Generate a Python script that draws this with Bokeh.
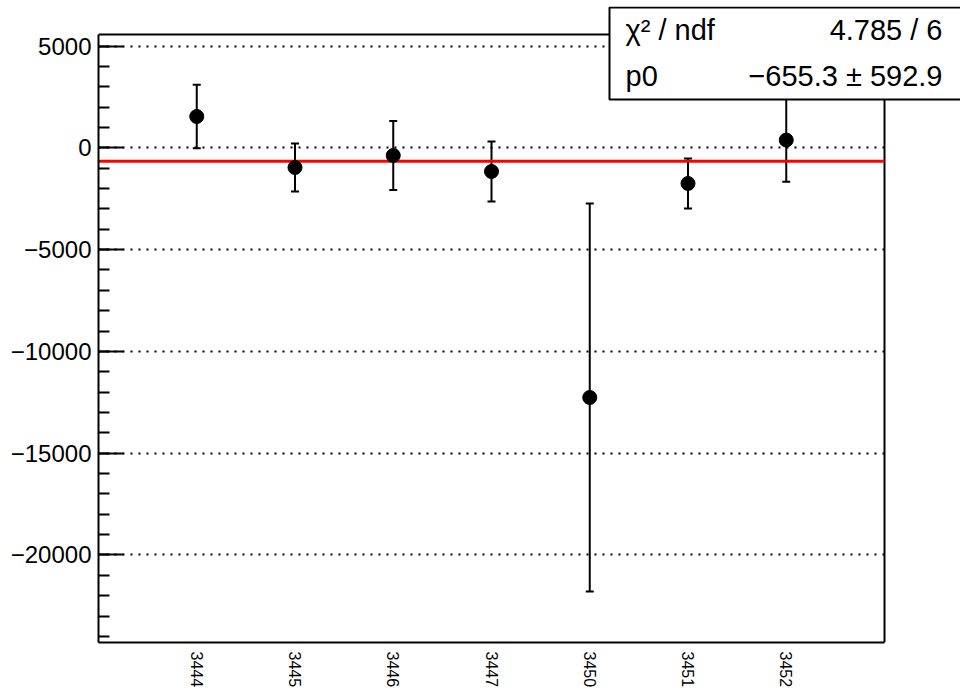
from bokeh.plotting import figure
from bokeh.models import (ColumnDataSource, FixedTicker, Whisker, TeeHead, BoxAnnotation,
                          Label, Range1d, Grid)
from bokeh.embed import file_html
from bokeh.resources import INLINE

# ---- data ----
runs = ["3444", "3445", "3446", "3447", "3450", "3451", "3452"]
values = [1537, -968, -378, -1164, -12264, -1753, 380]
errors = [1555, 1179, 1695, 1473, 9530, 1228, 2050]
fit_p0 = -655.3
stat_names = ["χ² / ndf", "p0"]
stat_values = ["4.785 / 6", "−655.3 ± 592.9"]
y_ticks = [5000, 0, -5000, -10000, -15000, -20000]
y_tick_labels = ["5000", "0", "−5000", "−10000", "−15000", "−20000"]
y_minor_step = 1000
y_limits = (-24300, 5565)          # ROOT frame limits

FONT = "Liberation Sans"

# ---- geometry (pixels) ----
W, H = 960, 692
F_LEFT, F_RIGHT, F_TOP, F_BOTTOM = 98, 884, 34, 642     # ROOT frame box
C_TOP = 6                                              # bokeh frame top (room for stats box)

xs = list(range(1, len(runs) + 1))
x_limits = (0, len(runs) + 1)
x_per_px = (x_limits[1] - x_limits[0]) / (F_RIGHT - F_LEFT)
y_per_px = (y_limits[1] - y_limits[0]) / (F_BOTTOM - F_TOP)
x_end = x_limits[1] + (W - F_RIGHT) * x_per_px
y_end = y_limits[1] + (F_TOP - C_TOP) * y_per_px

src = ColumnDataSource(dict(
    x=xs, y=values,
    upper=[v + e for v, e in zip(values, errors)],
    lower=[v - e for v, e in zip(values, errors)],
))

p = figure(width=W, height=H, output_backend="svg", toolbar_location=None,
           x_range=Range1d(x_limits[0], x_end), y_range=Range1d(y_limits[0], y_end),
           min_border_left=F_LEFT, min_border_right=0, min_border_top=C_TOP,
           min_border_bottom=H - F_BOTTOM)
p.background_fill_color = "white"
p.border_fill_color = "white"
p.outline_line_color = None

# grids
p.xgrid.grid_line_color = None
grid_has_cross = "cross_bounds" in Grid.properties()
if grid_has_cross:
    p.ygrid.grid_line_color = "black"
    p.ygrid.grid_line_dash = "2 6"
    p.ygrid.grid_line_width = 2
    p.ygrid.cross_bounds = x_limits
else:
    p.ygrid.grid_line_color = None
    p.segment(x0=[x_limits[0]] * len(y_ticks), x1=[x_limits[1]] * len(y_ticks),
              y0=y_ticks, y1=y_ticks, line_color="black", line_dash="2 6", line_width=2)

# y axis
ya = p.yaxis[0]
ya.bounds = y_limits
ya.ticker = FixedTicker(ticks=y_ticks,
                        minor_ticks=list(range(int(y_limits[0] // y_minor_step) * y_minor_step,
                                               y_ticks[0] + 1, y_minor_step)))
ya.major_label_overrides = {t: l for t, l in zip(y_ticks, y_tick_labels)}
ya.major_tick_in = 25
ya.major_tick_out = 0
ya.minor_tick_in = 11
ya.minor_tick_out = 0
ya.major_tick_line_width = 2
ya.minor_tick_line_width = 2
ya.axis_line_width = 2
ya.major_label_text_font = FONT
ya.major_label_text_font_size = "24px"
ya.major_label_text_color = "black"
ya.major_label_standoff = 7

# x axis
xa = p.xaxis[0]
xa.bounds = x_limits
xa.ticker = FixedTicker(ticks=xs)
xa.major_label_overrides = {x: r for x, r in zip(xs, runs)}
xa.major_label_orientation = "vertical"
xa.major_tick_in = 0
xa.major_tick_out = 0
xa.minor_tick_in = 0
xa.minor_tick_out = 0
xa.axis_line_width = 2
xa.major_label_text_font = FONT
xa.major_label_text_font_size = "16px"
xa.major_label_text_color = "black"
xa.major_label_standoff = 9

# remaining ROOT frame edges (top and right)
p.line(x=[x_limits[0], x_limits[1], x_limits[1]], y=[y_limits[1], y_limits[1], y_limits[0]],
       line_color="black", line_width=2)

# fit line
p.line(x=list(x_limits), y=[fit_p0, fit_p0], line_color="#ff0000", line_width=3)

# error bars
w = Whisker(source=src, base="x", upper="upper", lower="lower", dimension="height",
            line_color="black", line_width=2,
            upper_head=TeeHead(size=8, line_width=2, line_color="black"),
            lower_head=TeeHead(size=8, line_width=2, line_color="black"))
p.add_layout(w)

p.scatter(x="x", y="y", source=src, size=14, color="black")

# stats box
box = BoxAnnotation(left=609, right=W + 4, top=7, bottom=99,
                    left_units="canvas", right_units="canvas", top_units="canvas", bottom_units="canvas",
                    fill_color="white", fill_alpha=1.0, line_color="black", line_alpha=1.0, line_width=2)
p.add_layout(box)
row_y = [29, 75]
for name, val, yy in zip(stat_names, stat_values, row_y):
    p.add_layout(Label(x=625, y=yy, x_units="canvas", y_units="canvas", text=name,
                       text_font=FONT, text_font_size="29px", text_align="left",
                       text_baseline="alphabetic", text_color="black"))
    p.add_layout(Label(x=942, y=yy, x_units="canvas", y_units="canvas", text=val,
                       text_font=FONT, text_font_size="29px", text_align="right",
                       text_baseline="alphabetic", text_color="black"))

open("out.html", "w").write(file_html(p, INLINE))
